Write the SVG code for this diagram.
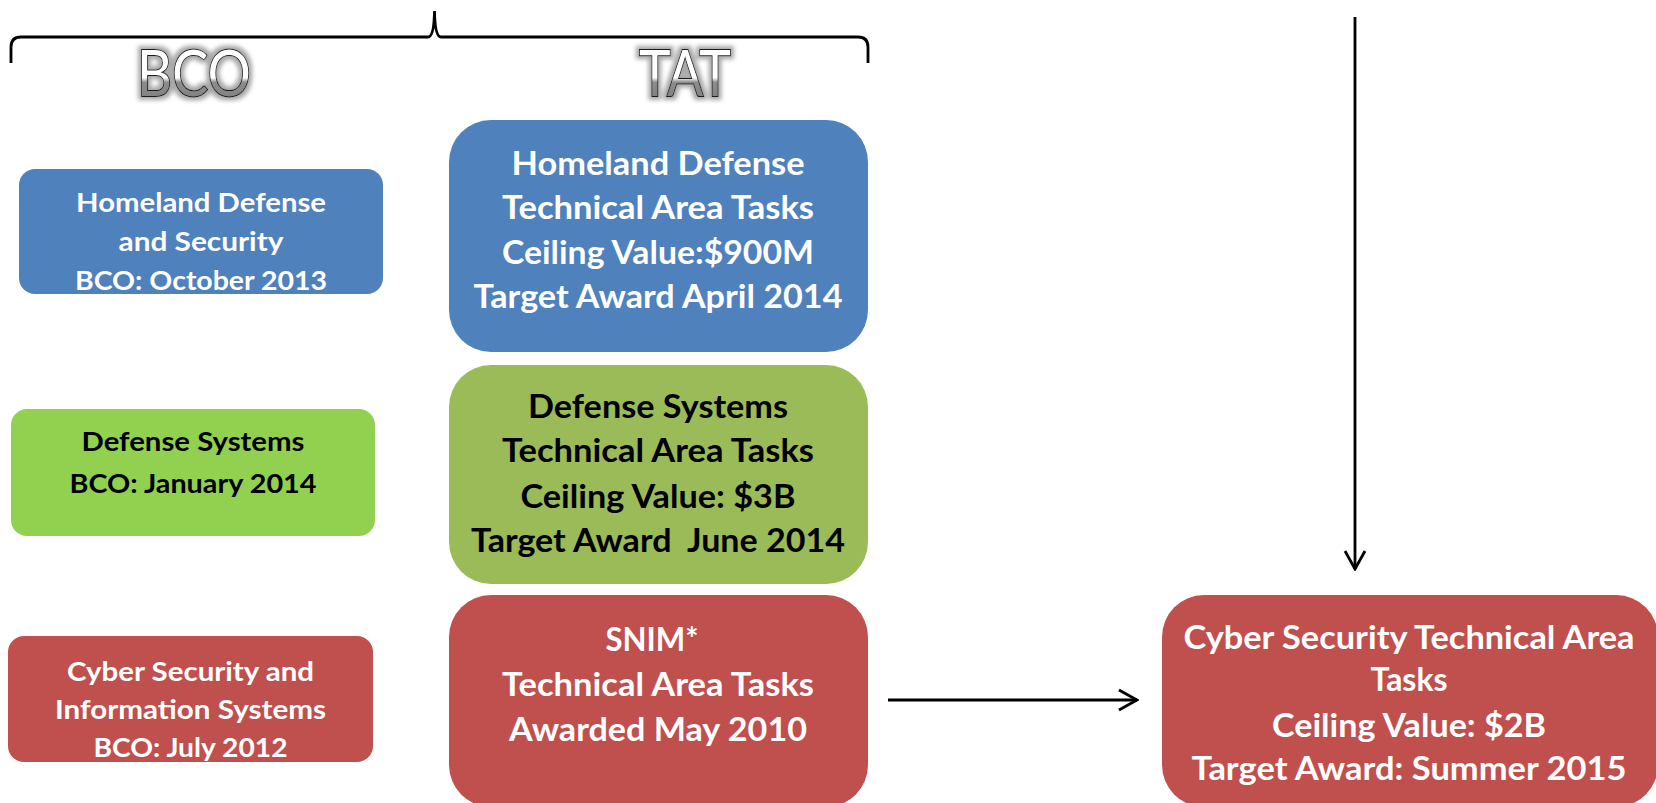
<svg xmlns="http://www.w3.org/2000/svg" width="1656" height="803" viewBox="0 0 1656 803">
<defs>
<style>
.t{font-family:Lato,"Open Sans","Liberation Sans",sans-serif;font-weight:700;text-anchor:middle}
.big{font-size:33px}
.sm{font-size:27.5px}
.w{fill:#ffffff}
.k{fill:#000000}
.hdr{font-family:Lato,"Open Sans","Liberation Sans",sans-serif;font-weight:400;font-size:64px;text-anchor:middle;fill:url(#hg);stroke:#1a1a1a;stroke-width:2;paint-order:stroke;filter:url(#glow)}
.conn{stroke:#000;stroke-width:2.8;fill:none}
</style>
<linearGradient id="hg" x1="0" y1="0" x2="0" y2="1">
<stop offset="0" stop-color="#ffffff"/>
<stop offset="0.58" stop-color="#ffffff"/>
<stop offset="0.64" stop-color="#8c8c8c"/>
<stop offset="1" stop-color="#7a7a7a"/>
</linearGradient>
<filter id="glow" x="-20%" y="-20%" width="140%" height="140%">
<feMorphology in="SourceAlpha" operator="dilate" radius="2.5" result="d"/>
<feGaussianBlur in="d" stdDeviation="2" result="b"/>
<feFlood flood-color="#a8a8a8"/>
<feComposite in2="b" operator="in" result="s"/>
<feMerge><feMergeNode in="s"/><feMergeNode in="SourceGraphic"/></feMerge>
</filter>
<marker id="ah" markerUnits="userSpaceOnUse" viewBox="0 0 22 24" markerWidth="22" markerHeight="24" refX="20" refY="12" orient="auto">
<path d="M2,2 L20,12 L2,22" fill="none" stroke="#000" stroke-width="2.8"/>
</marker>
</defs>
<rect width="1656" height="803" fill="#ffffff"/>

<g id="brace">
<path d="M11,63 L11,47 Q11,37 21,37 L428,37 Q434,37 434.5,11 Q435,37 441,37 L858,37 Q868,37 868,47 L868,63" fill="none" stroke="#000" stroke-width="2.8"/>
</g>

<g id="label-bco"><text class="hdr" x="194" y="96" textLength="114" lengthAdjust="spacingAndGlyphs">BCO</text></g>
<g id="label-tat"><text class="hdr" x="685" y="96" textLength="92" lengthAdjust="spacingAndGlyphs">TAT</text></g>

<g id="bco-hds">
<rect x="19" y="169" width="364" height="125" rx="16" fill="#4F81BD"/>
<text class="t sm w" x="201" y="212" textLength="250" lengthAdjust="spacingAndGlyphs">Homeland Defense</text>
<text class="t sm w" x="201" y="251" textLength="165" lengthAdjust="spacingAndGlyphs">and Security</text>
<text class="t sm w" x="201" y="290" textLength="252" lengthAdjust="spacingAndGlyphs">BCO: October 2013</text>
</g>

<g id="bco-ds">
<rect x="11" y="409" width="364" height="127" rx="16" fill="#92D050"/>
<text class="t sm k" x="193" y="451" textLength="223" lengthAdjust="spacingAndGlyphs">Defense Systems</text>
<text class="t sm k" x="193" y="493" textLength="247" lengthAdjust="spacingAndGlyphs">BCO: January 2014</text>
</g>

<g id="bco-csis">
<rect x="8" y="636" width="365" height="126" rx="16" fill="#C0504D"/>
<text class="t sm w" x="190.5" y="681" textLength="247" lengthAdjust="spacingAndGlyphs">Cyber Security and</text>
<text class="t sm w" x="190.5" y="719" textLength="271" lengthAdjust="spacingAndGlyphs">Information Systems</text>
<text class="t sm w" x="190.5" y="757" textLength="194" lengthAdjust="spacingAndGlyphs">BCO: July 2012</text>
</g>

<g id="tat-hd">
<rect x="449" y="120" width="419" height="232" rx="42" fill="#4F81BD"/>
<text class="t big w" x="658" y="175" textLength="293" lengthAdjust="spacingAndGlyphs">Homeland Defense</text>
<text class="t big w" x="658" y="219" textLength="312" lengthAdjust="spacingAndGlyphs">Technical Area Tasks</text>
<text class="t big w" x="658" y="264" textLength="312" lengthAdjust="spacingAndGlyphs">Ceiling Value:$900M</text>
<text class="t big w" x="658" y="308" textLength="369" lengthAdjust="spacingAndGlyphs">Target Award April 2014</text>
</g>

<g id="tat-ds">
<rect x="449" y="365" width="419" height="219" rx="42" fill="#9BBB59"/>
<text class="t big k" x="658" y="418" textLength="260" lengthAdjust="spacingAndGlyphs">Defense Systems</text>
<text class="t big k" x="658" y="462" textLength="312" lengthAdjust="spacingAndGlyphs">Technical Area Tasks</text>
<text class="t big k" x="658" y="508" textLength="275" lengthAdjust="spacingAndGlyphs">Ceiling Value: $3B</text>
<text class="t big k" x="658" y="552" textLength="374" lengthAdjust="spacingAndGlyphs" xml:space="preserve">Target Award  June 2014</text>
</g>

<g id="tat-snim">
<rect x="449" y="595" width="419" height="212" rx="42" fill="#C0504D"/>
<text class="t big w" x="652" y="651" textLength="93" lengthAdjust="spacingAndGlyphs">SNIM*</text>
<text class="t big w" x="658" y="696" textLength="312" lengthAdjust="spacingAndGlyphs">Technical Area Tasks</text>
<text class="t big w" x="658" y="741" textLength="298" lengthAdjust="spacingAndGlyphs">Awarded May 2010</text>
</g>

<g id="cyber-tat">
<rect x="1162" y="595" width="496" height="212" rx="42" fill="#C0504D"/>
<text class="t big w" x="1409" y="649" textLength="451" lengthAdjust="spacingAndGlyphs">Cyber Security Technical Area</text>
<text class="t big w" x="1409" y="691" textLength="77" lengthAdjust="spacingAndGlyphs">Tasks</text>
<text class="t big w" x="1409" y="737" textLength="274" lengthAdjust="spacingAndGlyphs">Ceiling Value: $2B</text>
<text class="t big w" x="1409" y="780" textLength="435" lengthAdjust="spacingAndGlyphs">Target Award: Summer 2015</text>
</g>

<g id="connectors">
<line class="conn" x1="1355" y1="17" x2="1355" y2="569" marker-end="url(#ah)"/>
<line class="conn" x1="888" y1="700" x2="1137" y2="700" marker-end="url(#ah)"/>
</g>
</svg>
